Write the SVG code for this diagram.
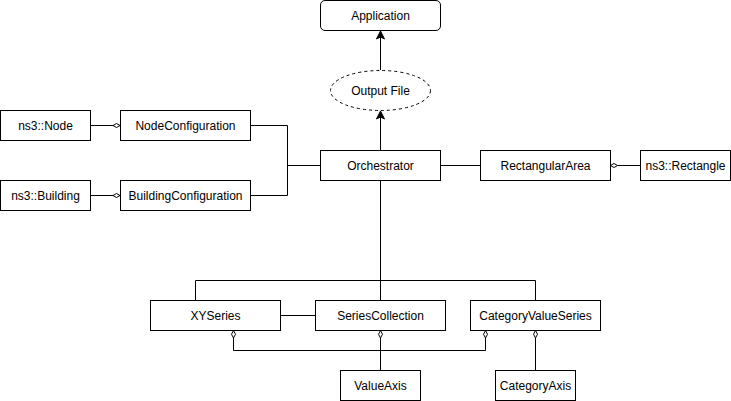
<svg xmlns="http://www.w3.org/2000/svg" width="731" height="401" viewBox="0 0 731 401">
<defs>
<style>
.b{fill:#fff;stroke:#000;stroke-width:1}
.t{font-family:"Liberation Sans",Arial,sans-serif;font-size:12px;fill:#000;text-anchor:middle;dominant-baseline:central}
.c{fill:none;stroke:#000;stroke-width:1}
.d{fill:#fff;stroke:#000;stroke-width:1}
</style>
<marker id="arr" viewBox="0 0 10 10" refX="9" refY="5" markerWidth="10" markerHeight="10" markerUnits="userSpaceOnUse" orient="auto">
<path d="M1,1 L9,5 L1,9 L3,5 Z" fill="#000" stroke="#000"/>
</marker>
</defs>
<rect width="731" height="401" fill="#fff"/>
<g id="connectors">
<path class="c" d="M380.5,70 V31" marker-end="url(#arr)"/>
<path class="c" d="M380.5,150 V111" marker-end="url(#arr)"/>
<path class="c" d="M90.5,125.5 H113"/>
<path class="d" d="M113,125.5 L116.5,123.5 L120,125.5 L116.5,127.5 Z"/>
<path class="c" d="M90.5,195.5 H113"/>
<path class="d" d="M113,195.5 L116.5,193.5 L120,195.5 L116.5,197.5 Z"/>
<path class="c" d="M250.5,125.5 H287.5 V195.5 H250.5"/>
<path class="c" d="M287.5,165.5 H320.5"/>
<path class="c" d="M440.5,165.5 H480.5"/>
<path class="c" d="M617.5,165.5 H640.5"/>
<path class="d" d="M610.5,165.5 L614,163.5 L617.5,165.5 L614,167.5 Z"/>
<path class="c" d="M380.5,180.5 V300.5"/>
<path class="c" d="M195.5,300.5 V280.5 H535.5 V300.5"/>
<path class="c" d="M280.5,315.5 H315.5"/>
<path class="c" d="M233.5,338 V350.5 H485.5 V338"/>
<path class="d" d="M233.5,330.5 L235.5,334.25 L233.5,338 L231.5,334.25 Z"/>
<path class="d" d="M485.5,330.5 L487.5,334.25 L485.5,338 L483.5,334.25 Z"/>
<path class="c" d="M380.5,338 V370.5"/>
<path class="d" d="M380.5,330.5 L382.5,334.25 L380.5,338 L378.5,334.25 Z"/>
<path class="c" d="M535.5,338 V370.5"/>
<path class="d" d="M535.5,330.5 L537.5,334.25 L535.5,338 L533.5,334.25 Z"/>
</g>
<g id="application"><rect class="b" x="320.5" y="0.5" width="120" height="30" rx="4.5"/><text class="t" x="380.5" y="15.5">Application</text></g>
<g id="output-file"><ellipse class="b" cx="380.5" cy="90.5" rx="50" ry="20" stroke-dasharray="3 3"/><text class="t" x="380.5" y="90.5">Output File</text></g>
<g id="orchestrator"><rect class="b" x="320.5" y="150.5" width="120" height="30"/><text class="t" x="380.5" y="165.5">Orchestrator</text></g>
<g id="ns3-node"><rect class="b" x="0.5" y="110.5" width="90" height="30"/><text class="t" x="45.5" y="125.5">ns3::Node</text></g>
<g id="node-configuration"><rect class="b" x="120.5" y="110.5" width="130" height="30"/><text class="t" x="185.5" y="125.5">NodeConfiguration</text></g>
<g id="ns3-building"><rect class="b" x="0.5" y="180.5" width="90" height="30"/><text class="t" x="45.5" y="195.5">ns3::Building</text></g>
<g id="building-configuration"><rect class="b" x="120.5" y="180.5" width="130" height="30"/><text class="t" x="185.5" y="195.5">BuildingConfiguration</text></g>
<g id="rectangular-area"><rect class="b" x="480.5" y="150.5" width="130" height="30"/><text class="t" x="545.5" y="165.5">RectangularArea</text></g>
<g id="ns3-rectangle"><rect class="b" x="640.5" y="150.5" width="90" height="30"/><text class="t" x="685.5" y="165.5">ns3::Rectangle</text></g>
<g id="xyseries"><rect class="b" x="150.5" y="300.5" width="130" height="30"/><text class="t" x="215.5" y="315.5">XYSeries</text></g>
<g id="series-collection"><rect class="b" x="315.5" y="300.5" width="130" height="30"/><text class="t" x="380.5" y="315.5">SeriesCollection</text></g>
<g id="category-value-series"><rect class="b" x="470.5" y="300.5" width="130" height="30"/><text class="t" x="535.5" y="315.5">CategoryValueSeries</text></g>
<g id="value-axis"><rect class="b" x="340.5" y="370.5" width="80" height="30"/><text class="t" x="380.5" y="385.5">ValueAxis</text></g>
<g id="category-axis"><rect class="b" x="495.5" y="370.5" width="80" height="30"/><text class="t" x="535.5" y="385.5">CategoryAxis</text></g>
</svg>
